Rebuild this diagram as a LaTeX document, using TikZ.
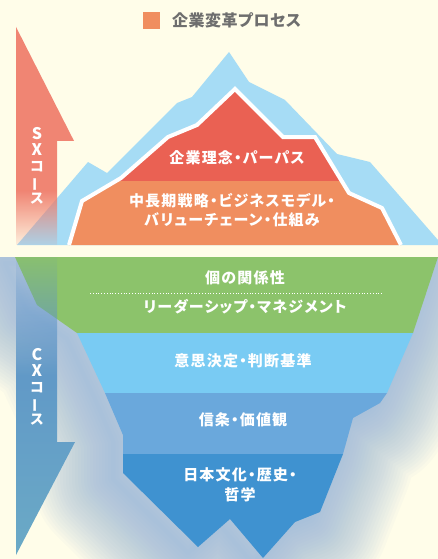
\documentclass[tikz,border=0pt]{standalone}
\usepackage{fontspec}
\usepackage{graphicx}
\usepackage{tikz}
\usetikzlibrary{fadings}
\newfontfamily\jpfont[RawFeature=+palt,LetterSpace=8]{Noto Sans CJK JP}
\newfontfamily\jplegend[RawFeature=+palt,LetterSpace=3]{Noto Sans CJK JP}

\definecolor{bgc}{HTML}{FFFDE9}
\definecolor{glowc}{HTML}{8FB0DA}
\definecolor{iceblue}{HTML}{A6DCF5}
\definecolor{redc}{HTML}{EA6153}
\definecolor{orangec}{HTML}{F08E5F}
\definecolor{greenc}{HTML}{8CC36B}
\definecolor{skyc}{HTML}{79CBF3}
\definecolor{midc}{HTML}{6AA8DC}
\definecolor{deepc}{HTML}{3F92D0}
\definecolor{sxred}{HTML}{EF7B6A}
\definecolor{cxtop}{HTML}{5A8EC8}
\definecolor{cxbot}{HTML}{6BAAC6}
\definecolor{greyc}{HTML}{6E6E6E}

\begin{tikzfadingfrompicture}[name=sxfade]
\fill[transparent!8] (-50bp,-13bp) rectangle (50bp,50bp);
\shade[top color=transparent!8, bottom color=transparent!90] (-50bp,-25bp) rectangle (50bp,-12.5bp);
\fill[transparent!90] (-50bp,-50bp) rectangle (50bp,-24.8bp);
\end{tikzfadingfrompicture}

\begin{tikzfadingfrompicture}[name=cxfade]
\fill[transparent!95] (-50bp,24.8bp) rectangle (50bp,50bp);
\shade[top color=transparent!95, bottom color=transparent!0] (-50bp,5bp) rectangle (50bp,25bp);
\fill[transparent!0] (-50bp,-50bp) rectangle (50bp,5.2bp);
\end{tikzfadingfrompicture}

\tikzset{
  lbl/.style={text=white, font=\jpfont\bfseries\fontsize{15}{19.5}\selectfont, align=center, inner sep=0pt},
  vlbl/.style={text=white, font=\jpfont\bfseries\fontsize{14}{16}\selectfont, align=center, inner sep=0pt}
}
\newcommand{\latinch}[1]{{\fontsize{16}{16}\selectfont #1}}

\newcommand{\peakline}{(69,245) -- (82,201) -- (121,178) -- (168,137) -- (197,125) -- (235,89) -- (283,137) -- (315,137) -- (349,193) -- (382,208) -- (401,245)}
\newcommand{\bergline}{(15,257) -- (438,257) -- (413,333) -- (387,393) -- (380,403) -- (353,418) -- (343,454) -- (320,512) -- (295,522) -- (263,558) -- (230,519) -- (198,547) -- (123,473) -- (123,435) -- (105,393) -- (77,333) -- (37,305) -- cycle}

\begin{document}
\begin{tikzpicture}[x=1pt,y=-1pt]
\useasboundingbox (0,0) rectangle (438,559);
\fill[bgc] (0,0) rectangle (438,559);

% glow under the water line
\begin{scope}
\clip (0,257) rectangle (438,559);
\begin{scope}[shift={(-10,6)}]
\foreach \w in {160,154,...,4}
  \draw[glowc,opacity=0.045,line width=\w pt,line join=round] \bergline;
\end{scope}
\end{scope}

% above water
\fill[iceblue] (17,245) -- (88,162) -- (107,173) -- (177,103) -- (192,97) -- (229,52) -- (249,82) -- (285,100) -- (337,154) -- (370,162) -- (438,240) -- (438,245) -- cycle;
\fill[orangec] \peakline -- cycle;
\begin{scope}
\clip (0,0) rectangle (438,180);
\fill[redc] \peakline -- cycle;
\end{scope}
\draw[white,line width=4pt] \peakline;

\node[lbl] (purpose) at (237,158) {企業理念・パーパス};
\node[lbl] (strategy) at (232,210) {中長期戦略・ビジネスモデル・\\バリューチェーン・仕組み};

% below water
\fill[greenc] (15,257) -- (438,257) -- (413,333) -- (77,333) -- (37,305) -- cycle;
\fill[skyc] (77,333) -- (413,333) -- (387,393) -- (105,393) -- cycle;
\fill[midc] (105,393) -- (387,393) -- (380,403) -- (353,418) -- (343,454) -- (123,454) -- (123,435) -- cycle;
\fill[deepc] (123,454) -- (343,454) -- (320,512) -- (295,522) -- (263,558) -- (230,519) -- (198,547) -- (123,473) -- cycle;
\draw[white,dotted,line width=0.8pt] (90,293) -- (382,293);

\node[lbl] (relation) at (245,278) {個の関係性};
\node[lbl] (leader) at (245,307) {リーダーシップ・マネジメント};
\node[lbl] (decision) at (243,361) {意思決定・判断基準};
\node[lbl] (belief) at (243,420) {信条・価値観};
\node[lbl] (culture) at (240,485) {日本文化・歴史・\\哲学};

% courses
\fill[sxred,path fading=sxfade] (16,27) -- (74,141) -- (57,141) -- (57,245) -- (16,245) -- cycle;
\shade[top color=cxtop,bottom color=cxbot,path fading=cxfade] (16,257) -- (57,257) -- (57,442) -- (75,442) -- (16,555) -- cycle;
\node[vlbl] (sx) at (37,166) {\latinch{S}\\\latinch{X}\\コ\\\rotatebox[origin=c]{90}{ー}\\ス};
\node[vlbl] (cx) at (37,387) {\latinch{C}\\\latinch{X}\\コ\\\rotatebox[origin=c]{90}{ー}\\ス};

% legend
\fill[orangec] (143,12) rectangle (160,29);
\node[anchor=west,text=greyc,inner sep=0pt,font=\jplegend\bfseries\fontsize{16}{16}\selectfont] (legend) at (172,20.5) {企業変革プロセス};
\end{tikzpicture}
\end{document}
